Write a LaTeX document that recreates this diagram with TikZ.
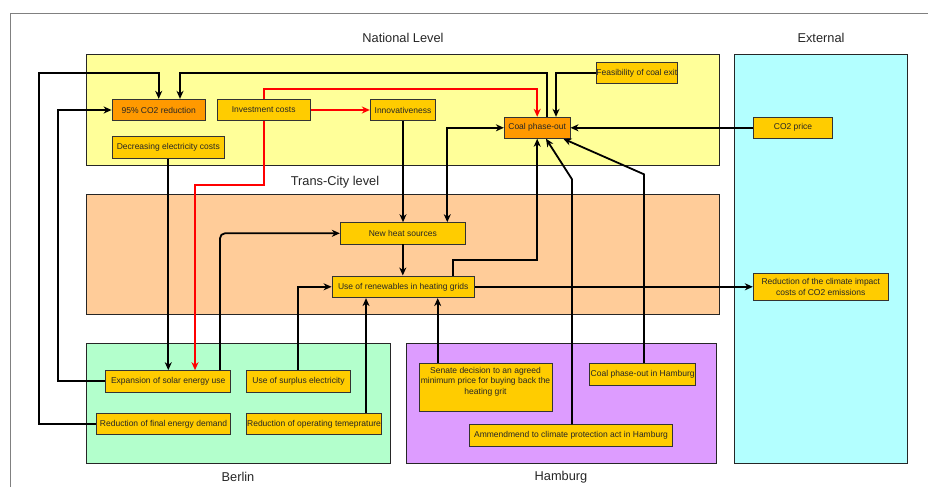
\documentclass[tikz,border=0pt]{standalone}
\usepackage{fontspec}
\setmainfont{Liberation Sans}
\usetikzlibrary{arrows.meta}
\definecolor{nodeY}{HTML}{FFCC00}
\definecolor{nodeO}{HTML}{FF9900}
\definecolor{regY}{HTML}{FFFF99}
\definecolor{regO}{HTML}{FFCC99}
\definecolor{regG}{HTML}{B3FFCC}
\definecolor{regP}{HTML}{DD9CFF}
\definecolor{regC}{HTML}{B3FFFF}
\begin{document}
\begin{tikzpicture}[x=1pt,y=-1pt,
  region/.style={draw=black!85, line width=0.9pt},
  reglabel/.style={font=\fontsize{12.8}{14}\selectfont, text=black!85, inner sep=0pt},
  box/.style={draw=black!80, line width=0.9pt, fill=nodeY, inner sep=0pt, align=center,
    font=\fontsize{8.5}{10.7}\selectfont, text=black!85},
  hot/.style={box, fill=nodeO},
  txt/.style={inner sep=0pt, align=center, font=\fontsize{8.5}{10.7}\selectfont, text=black!85},
  arr/.style={line width=1.8pt, -{Stealth[length=8pt,width=7pt,inset=2.5pt]}},
  redarr/.style={arr, draw=red},
  birr/.style={line width=1.8pt, {Stealth[length=8pt,width=7pt,inset=2.5pt]}-{Stealth[length=8pt,width=7pt,inset=2.5pt]}}
]
\useasboundingbox (0,0) rectangle (928,487);
% outer frame
\draw[gray, line width=0.9pt] (10,487) -- (10,13.3) -- (928,13.3);
% regions
\draw[region, fill=regY] (86.7,54.7) rectangle (719.3,165.3);
\draw[region, fill=regO] (86.7,194.7) rectangle (719.3,314.3);
\draw[region, fill=regC] (734.3,54.7) rectangle (907.3,463.3);
\draw[region, fill=regG] (86.7,343.7) rectangle (390.7,463.3);
\draw[region, fill=regP] (406,343.7) rectangle (716,463.3);
\node[reglabel] (lnat) at (403,38) {National Level};
\node[reglabel] (lext) at (821,38) {External};
\node[reglabel] (ltc) at (335,182) {Trans-City level};
\node[reglabel] (lber) at (238,477) {Berlin};
\node[reglabel] (lham) at (561,477) {Hamburg};
% nodes
\node[hot, minimum width=93.3pt, minimum height=21.4pt] (co2red) at (158.7,110) {95\% CO2 reduction};
\node[box, minimum width=93.3pt, minimum height=21.4pt] (invest) at (263.7,110) {Investment costs};
\node[box, minimum width=65.4pt, minimum height=21.4pt] (innov) at (403,110) {Innovativeness};
\node[box, minimum width=112.7pt, minimum height=21.7pt] (decr) at (168.3,147.2) {Decreasing electricity costs};
\node[box, minimum width=81.7pt, minimum height=21.6pt] (feas) at (636.8,73) {Feasibility of coal exit};
\node[hot, minimum width=65.7pt, minimum height=21pt] (coal) at (537.2,127.8) {Coal phase-out};
\node[box, minimum width=78.6pt, minimum height=21pt] (co2price) at (793,127.8) {CO2 price};
\node[box, minimum width=125pt, minimum height=21.3pt] (newheat) at (402.8,233.3) {New heat sources};
\node[box, minimum width=142.3pt, minimum height=21.7pt] (renew) at (403.2,286.8) {Use of renewables in heating grids};
\node[box, minimum width=135pt, minimum height=27pt] (climate) at (820.8,286.8) {Reduction of the climate impact\\costs of CO2 emissions};
\node[box, minimum width=125pt, minimum height=21.3pt] (solar) at (168.2,381.3) {Expansion of solar energy use};
\node[box, minimum width=103.6pt, minimum height=21.3pt] (surplus) at (298.5,381.3) {Use of surplus electricity};
\node[box, minimum width=134.4pt, minimum height=21.4pt] (finaldem) at (163.5,424) {Reduction of final energy demand};
\node[box, minimum width=134.6pt, minimum height=21.4pt] (optemp) at (314,424) {Reduction of operating temeprature};
\node[box, minimum width=133pt, minimum height=48pt] (senate) at (485.5,387.3) {};
\node[txt, anchor=north] (senatetxt) at ([yshift=-4pt]senate.north) {Senate decision to an agreed\\minimum price for buying back the\\heating grit};
\node[box, minimum width=106pt, minimum height=22pt] (coalhh) at (642.7,374.3) {Coal phase-out in Hamburg};
\node[box, minimum width=203.4pt, minimum height=22pt] (amend) at (571,435.7) {Ammendmend to climate protection act in Hamburg};
% connectors
\draw[arr] (finaldem.west) -| (38.7,72.7) -| (co2red.north);
\draw[arr] (solar.west) -| (58.3,110) -- (co2red.west);
\draw[arr] (coal.north -| 546.7,0) |- (180,72.7) -- (co2red.north -| 180,0);
\draw[redarr] (invest.east) -- (innov.west);
\draw[redarr] (invest.north) |- (537.2,88.7) -- (coal.north);
\draw[redarr] (invest.south) -- (263.7,185.3) -| (solar.north -| 195,0);
\draw[arr] (feas.west) -| (coal.north -| 556,0);
\draw[arr] (co2price.west) -- (coal.east);
\draw[birr] (newheat.north -| 447.3,0) |- (coal.west);
\draw[arr] (innov.south) -- (innov.south |- newheat.north);
\draw[arr] (newheat.south) -- (newheat.south |- renew.north);
\draw[arr] (decr.south) -- (decr.south |- solar.north);
\draw[arr, rounded corners=5pt] (solar.north -| 220,0) |- (newheat.west);
\draw[arr] (surplus.north -| 298,0) |- (renew.west);
\draw[arr] (optemp.north -| 366,0) -- (renew.south -| 366,0);
\draw[arr] (senate.north -| 437.7,0) -- (renew.south -| 437.7,0);
\draw[arr] (renew.north -| 453.3,0) |- (537.2,260.3) -- (coal.south);
\draw[arr] (renew.east) -- (climate.west);
\draw[arr] (amend.north -| 572,0) -- (572,179.3) -- (coal.south -| 546,0);
\draw[arr] (coalhh.north -| 644,0) -- (644,174.3) -- (coal.south -| 563.3,0);
\end{tikzpicture}
\end{document}
